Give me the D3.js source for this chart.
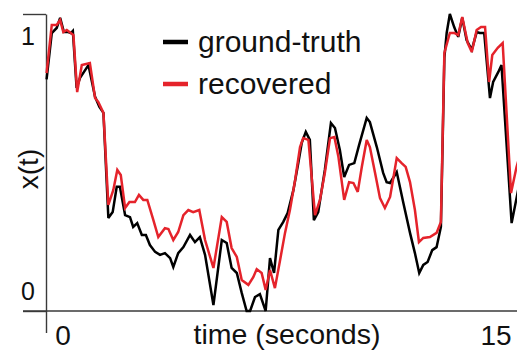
<!DOCTYPE html>
<html>
<head>
<meta charset="utf-8">
<script src="https://cdn.jsdelivr.net/npm/d3@7"></script>
<style>
  body { margin: 0; background: #fff; }
  svg { display: block; font-family: "Liberation Sans", Arial, Helvetica, sans-serif; }
</style>
</head>
<body>
<div id="chart"></div>
<script>
// time in seconds, value of x(t)
const truthTime = [0.02, 0.2, 0.37, 0.49, 0.62, 0.77, 0.86, 0.93, 1.06, 1.18, 1.47, 1.7, 1.85, 1.99,
  2.16, 2.31, 2.45, 2.56, 2.74, 2.91, 3.02, 3.16, 3.32, 3.46, 3.6, 3.78, 3.95, 4.12, 4.3, 4.41,
  4.58, 4.76, 4.99, 5.16, 5.33, 5.51, 5.8, 6.09, 6.26, 6.43, 6.61, 6.78, 6.95, 7.07, 7.24, 7.41,
  7.61, 7.76, 7.9, 8.05, 8.22, 8.37, 8.57, 8.74, 8.86, 9.0, 9.14, 9.28, 9.43, 9.66, 9.87, 10.01,
  10.18, 10.33, 10.5, 10.68, 10.85, 11.11, 11.22, 11.46, 11.68, 11.8, 11.92, 12.15, 12.38, 12.61,
  12.78, 12.93, 13.07, 13.22, 13.38, 13.53, 13.68, 13.8, 13.88, 13.99, 14.14, 14.28, 14.42, 14.57,
  14.75, 14.92, 15.03, 15.18, 15.38, 15.49, 15.67, 15.78, 16.13, 16.3, 16.42];
const truthValue = [0.78, 0.936, 0.953, 0.987, 0.939, 0.939, 0.936, 0.943, 0.751, 0.785, 0.828, 0.721, 0.687, 0.667,
  0.313, 0.333, 0.418, 0.418, 0.323, 0.316, 0.283, 0.296, 0.256, 0.256, 0.222, 0.199, 0.189, 0.195, 0.178, 0.148,
  0.195, 0.215, 0.256, 0.232, 0.249, 0.189, 0.02, 0.239, 0.229, 0.145, 0.128, 0.061, 0.0, 0.0, 0.047, 0.057,
  0.0, 0.178, 0.128, 0.273, 0.3, 0.33, 0.407, 0.498, 0.566, 0.603, 0.576, 0.306, 0.333, 0.475, 0.633, 0.616,
  0.542, 0.451, 0.492, 0.498, 0.56, 0.65, 0.636, 0.552, 0.465, 0.434, 0.431, 0.468, 0.364, 0.263,
  0.195, 0.128, 0.155, 0.165, 0.205, 0.215, 0.283, 0.852, 0.936, 1.0, 0.956, 0.923, 0.987, 0.912,
  0.879, 0.939, 0.936, 0.936, 0.717, 0.771, 0.805, 0.828, 0.296, 0.38, 0.44];

const recoveredTime = [0.02, 0.2, 0.37, 0.49, 0.6, 0.72, 0.86, 0.95, 1.08, 1.24, 1.52, 1.7, 1.81, 1.99,
  2.16, 2.33, 2.47, 2.59, 2.74, 2.89, 3.08, 3.22, 3.37, 3.51, 3.72, 3.89, 4.12, 4.24, 4.41, 4.58,
  4.76, 4.93, 5.1, 5.31, 5.51, 5.8, 6.09, 6.26, 6.43, 6.61, 6.78, 7.01, 7.18, 7.3, 7.47, 7.61,
  7.76, 7.93, 8.11, 8.28, 8.45, 8.63, 8.8, 8.91, 9.09, 9.32, 9.49, 9.66, 9.84, 9.99, 10.13, 10.33,
  10.5, 10.65, 10.8, 10.94, 11.11, 11.22, 11.4, 11.57, 11.74, 11.92, 12.15, 12.32, 12.46, 12.61,
  12.78, 12.92, 13.07, 13.3, 13.53, 13.68, 13.8, 13.99, 14.14, 14.28, 14.42, 14.61, 14.75, 14.92,
  15.07, 15.21, 15.35, 15.46, 15.65, 15.82, 16.11, 16.3, 16.42];
const recoveredValue = [0.801, 0.963, 0.963, 0.98, 0.939, 0.946, 0.936, 0.929, 0.737, 0.828, 0.835, 0.717, 0.704, 0.667,
  0.357, 0.407, 0.475, 0.458, 0.347, 0.367, 0.367, 0.391, 0.374, 0.374, 0.306, 0.249, 0.279, 0.276, 0.239, 0.266,
  0.323, 0.34, 0.333, 0.34, 0.239, 0.145, 0.316, 0.3, 0.212, 0.182, 0.104, 0.088, 0.114, 0.141, 0.128, 0.071,
  0.138, 0.077, 0.172, 0.263, 0.34, 0.441, 0.552, 0.582, 0.576, 0.323, 0.374, 0.465, 0.582, 0.586, 0.519, 0.374,
  0.434, 0.431, 0.401, 0.485, 0.576, 0.552, 0.465, 0.38, 0.347, 0.384, 0.515, 0.498, 0.485, 0.434,
  0.34, 0.232, 0.246, 0.249, 0.263, 0.3, 0.869, 0.936, 0.936, 0.929, 0.99, 0.902, 0.872, 0.946,
  0.956, 0.956, 0.771, 0.862, 0.886, 0.902, 0.397, 0.485, 0.525];

const seriesNames = ["ground-truth", "recovered"];
const seriesColors = ["#000000", "#e5232b"];
const yTicks = [0, 1];
const xTicks = [0, 15];
const xLabel = "time (seconds)";
const yLabel = "x(t)";

const width = 517, height = 351;
const margin = {top: 14, right: 38, bottom: 40, left: 46};

const svg = d3.select("#chart").append("svg")
  .attr("width", width)
  .attr("height", height);

const x = d3.scaleLinear().domain([0, 15]).range([margin.left, width - margin.right]);
const y = d3.scaleLinear().domain([0, 1]).range([height - margin.bottom, margin.top]);

const axisColor = "#3a3a3a";

// y axis: vertical line plus ticks pointing left
const yAxis = svg.append("g")
  .attr("transform", `translate(${x(0)},0)`)
  .call(d3.axisLeft(y).tickValues(yTicks).tickSize(23).tickSizeOuter(0).tickFormat(""));
yAxis.selectAll("path, line").attr("stroke", axisColor).attr("stroke-width", 1.4);

// x axis: only the tick at 0 hangs below
const xAxis = svg.append("g")
  .attr("transform", `translate(0,${y(0)})`)
  .call(d3.axisBottom(x).tickValues([0]).tickSize(22).tickSizeOuter(0).tickFormat(""));
xAxis.select(".domain").remove();
xAxis.selectAll("line").attr("stroke", axisColor).attr("stroke-width", 1.4);
svg.append("line")
  .attr("x1", x(0) - 23).attr("x2", width)
  .attr("y1", y(0)).attr("y2", y(0))
  .attr("stroke", axisColor).attr("stroke-width", 1.4);

// tick labels
svg.selectAll(".ylab")
  .data(yTicks)
  .enter().append("text")
  .attr("class", "ylab")
  .attr("x", x(0) - 18)
  .attr("y", d => d === 1 ? y(d) + 31 : y(d) - 11)
  .attr("text-anchor", "middle")
  .attr("font-size", 25)
  .attr("fill", "#111")
  .text(d => d);

svg.selectAll(".xlab")
  .data(xTicks)
  .enter().append("text")
  .attr("class", "xlab")
  .attr("x", d => x(d) + 17)
  .attr("y", 345)
  .attr("text-anchor", "middle")
  .attr("font-size", 28)
  .attr("fill", "#111")
  .text(d => d);

svg.append("text")
  .attr("x", 287)
  .attr("y", 344)
  .attr("text-anchor", "middle")
  .attr("font-size", 28.5)
  .attr("fill", "#111")
  .text(xLabel);

svg.append("text")
  .attr("transform", "translate(38,169) rotate(-90)")
  .attr("text-anchor", "middle")
  .attr("font-size", 28)
  .attr("fill", "#111")
  .text(yLabel);

// lines
const line = d3.line()
  .x(d => x(d[0]))
  .y(d => y(d[1]));

const series = [
  d3.zip(truthTime, truthValue),
  d3.zip(recoveredTime, recoveredValue)
];

svg.append("clipPath").attr("id", "clip")
  .append("rect").attr("x", 0).attr("y", 0).attr("width", width).attr("height", height);

svg.append("g")
  .attr("clip-path", "url(#clip)")
  .selectAll("path")
  .data(series)
  .enter().append("path")
  .attr("d", line)
  .attr("fill", "none")
  .attr("stroke", (d, i) => seriesColors[i])
  .attr("stroke-width", 2.5)
  .attr("stroke-linejoin", "miter")
  .attr("stroke-miterlimit", 3);

// legend
const legend = svg.selectAll(".legend")
  .data(seriesNames)
  .enter().append("g")
  .attr("class", "legend")
  .attr("transform", (d, i) => `translate(163,${42 + i * 42})`);

legend.append("line")
  .attr("x1", 0).attr("x2", 25)
  .attr("stroke", (d, i) => seriesColors[i])
  .attr("stroke-width", 4.5);

legend.append("text")
  .attr("x", 35)
  .attr("y", 10)
  .attr("font-size", 30)
  .attr("fill", "#111")
  .text(d => d);
</script>
</body>
</html>
